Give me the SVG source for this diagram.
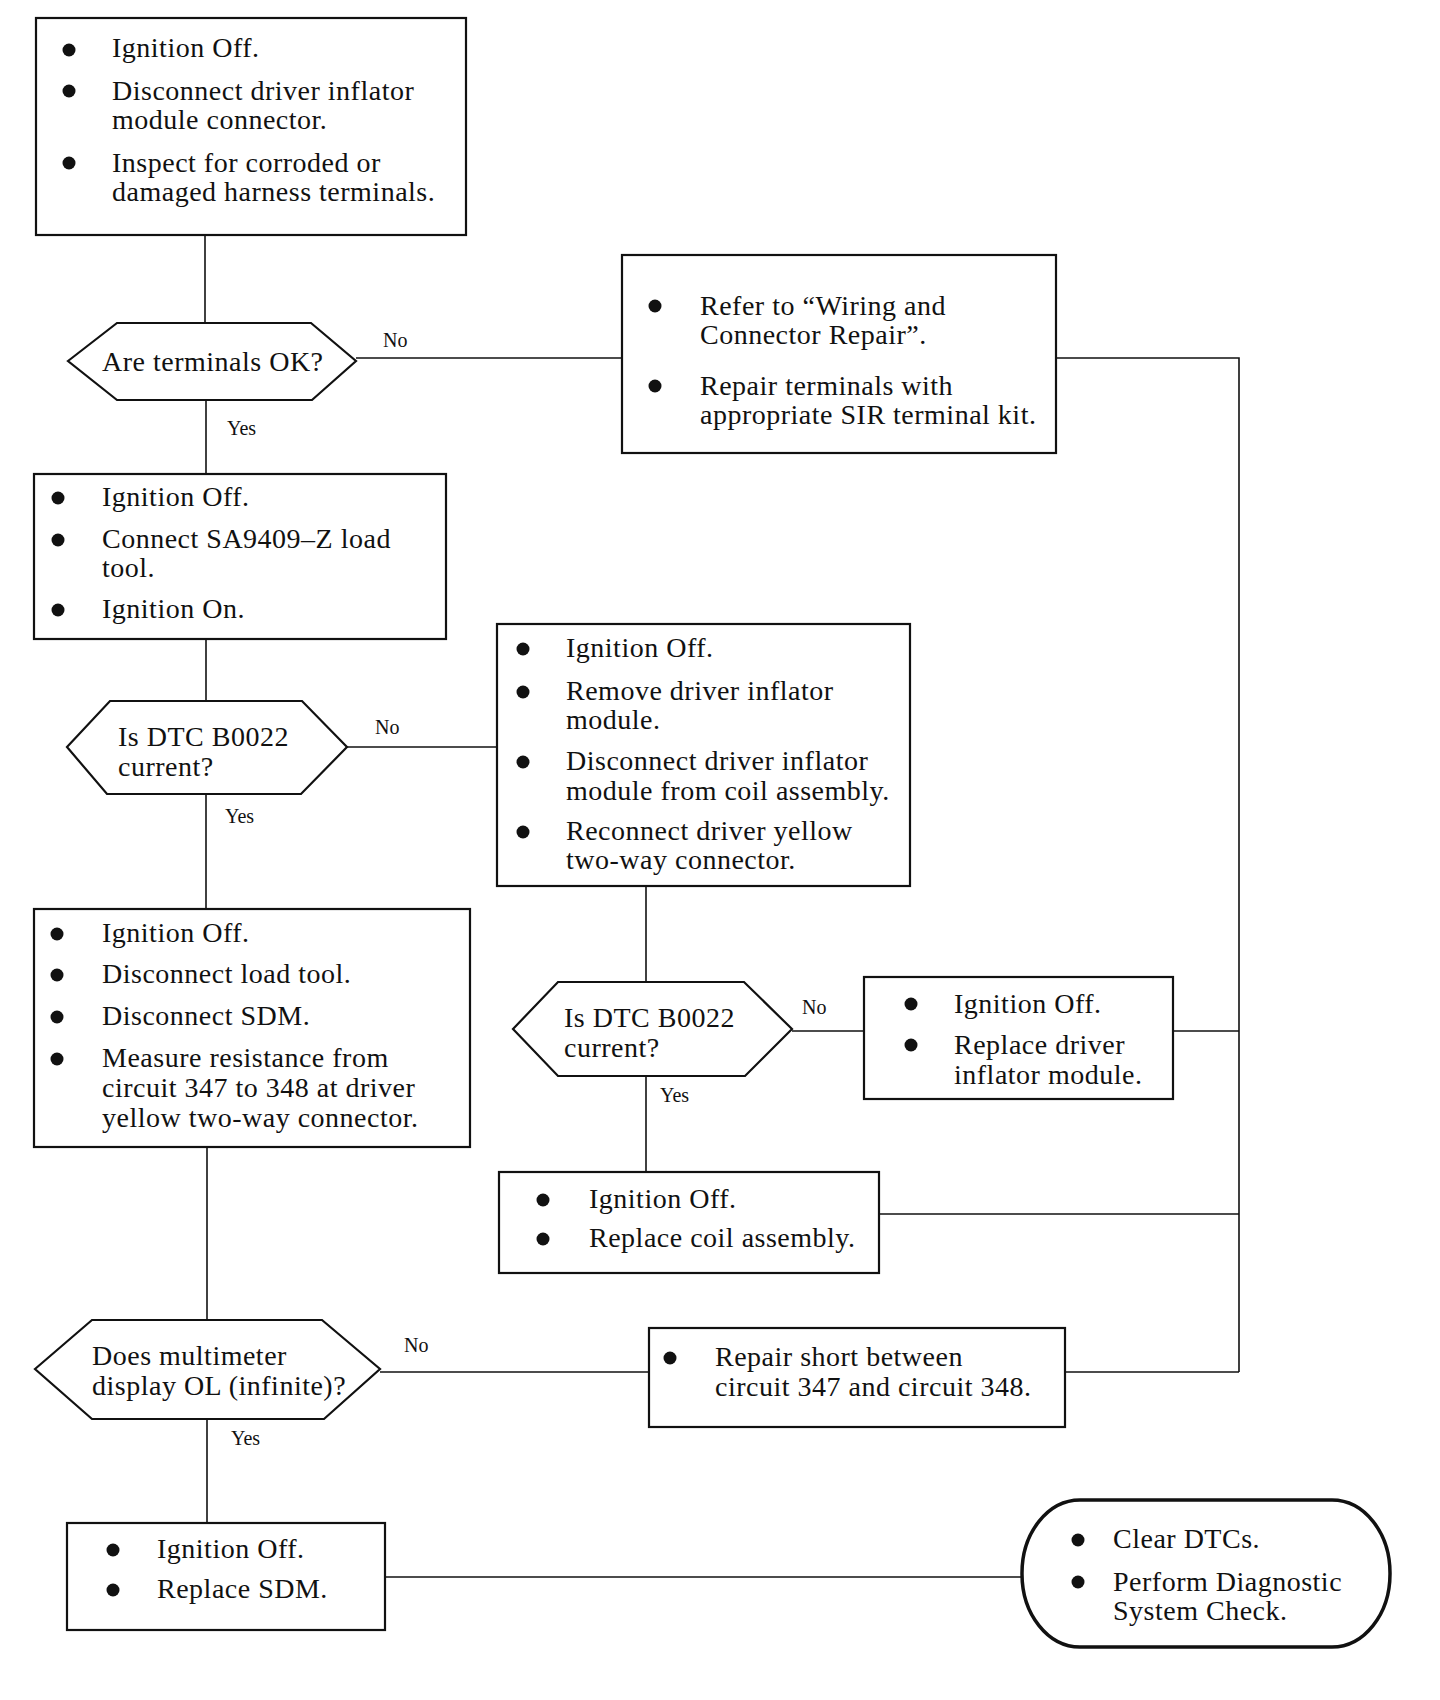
<svg xmlns="http://www.w3.org/2000/svg" width="1440" height="1700" viewBox="0 0 1440 1700">
<style>
.bg{fill:#fff}
.box{fill:#fff;stroke:#111;stroke-width:2.2}
.term{fill:#fff;stroke:#111;stroke-width:3.5}
.conn line,.conn polyline{stroke:#111;stroke-width:1.6;fill:none}
text{font-family:"Liberation Serif","Times New Roman",serif;fill:#111}
.t{font-size:28px;letter-spacing:0.5px}
.lbl{font-size:20px}
.dot{fill:#111}
</style>
<rect class="bg" x="0" y="0" width="1440" height="1700"/>
<g id="connectors" class="conn">
<line x1="205" y1="235" x2="205" y2="323"/>
<line x1="206" y1="400" x2="206" y2="474"/>
<line x1="356" y1="358" x2="622" y2="358"/>
<polyline points="1056,358 1239,358 1239,1372"/>
<line x1="206" y1="639" x2="206" y2="701"/>
<line x1="347" y1="747" x2="497" y2="747"/>
<line x1="206" y1="794" x2="206" y2="909"/>
<line x1="646" y1="886" x2="646" y2="982"/>
<line x1="792" y1="1031" x2="864" y2="1031"/>
<line x1="1173" y1="1031" x2="1239" y2="1031"/>
<line x1="646" y1="1076" x2="646" y2="1172"/>
<line x1="879" y1="1214" x2="1239" y2="1214"/>
<line x1="207" y1="1147" x2="207" y2="1320"/>
<line x1="380" y1="1372" x2="649" y2="1372"/>
<line x1="1065" y1="1372" x2="1239" y2="1372"/>
<line x1="207" y1="1419" x2="207" y2="1523"/>
<line x1="385" y1="1577" x2="1022" y2="1577"/>
<text class="lbl" x="383" y="347">No</text>
<text class="lbl" x="227" y="435">Yes</text>
<text class="lbl" x="375" y="734">No</text>
<text class="lbl" x="225" y="823">Yes</text>
<text class="lbl" x="802" y="1014">No</text>
<text class="lbl" x="660" y="1102">Yes</text>
<text class="lbl" x="404" y="1352">No</text>
<text class="lbl" x="231" y="1445">Yes</text>
</g>
<g id="box1">
<rect class="box" x="36" y="18" width="430" height="217"/>
<circle class="dot" cx="69" cy="50" r="6.5"/>
<circle class="dot" cx="69" cy="91" r="6.5"/>
<circle class="dot" cx="69" cy="163" r="6.5"/>
<text class="t" x="112" y="57">Ignition Off.</text>
<text class="t" x="112" y="100">Disconnect driver inflator</text>
<text class="t" x="112" y="129">module connector.</text>
<text class="t" x="112" y="172">Inspect for corroded or</text>
<text class="t" x="112" y="201">damaged harness terminals.</text>
</g>
<g id="dec1">
<polygon class="box" points="68,361 117,323 311,323 356,361 312,400 117,400"/>
<text class="t" x="102" y="371">Are terminals OK?</text>
</g>
<g id="box2">
<rect class="box" x="622" y="255" width="434" height="198"/>
<circle class="dot" cx="655" cy="306" r="6.5"/>
<circle class="dot" cx="655" cy="386" r="6.5"/>
<text class="t" x="700" y="315">Refer to “Wiring and</text>
<text class="t" x="700" y="344">Connector Repair”.</text>
<text class="t" x="700" y="395">Repair terminals with</text>
<text class="t" x="700" y="424">appropriate SIR terminal kit.</text>
</g>
<g id="box3">
<rect class="box" x="34" y="474" width="412" height="165"/>
<circle class="dot" cx="58" cy="498" r="6.5"/>
<circle class="dot" cx="58" cy="540" r="6.5"/>
<circle class="dot" cx="58" cy="610" r="6.5"/>
<text class="t" x="102" y="506">Ignition Off.</text>
<text class="t" x="102" y="548">Connect SA9409–Z load</text>
<text class="t" x="102" y="577">tool.</text>
<text class="t" x="102" y="618">Ignition On.</text>
</g>
<g id="dec2">
<polygon class="box" points="67,747 110,701 302,701 347,747 301,794 107,794"/>
<text class="t" x="118" y="746">Is DTC B0022</text>
<text class="t" x="118" y="776">current?</text>
</g>
<g id="box4">
<rect class="box" x="497" y="624" width="413" height="262"/>
<circle class="dot" cx="523" cy="649" r="6.5"/>
<circle class="dot" cx="523" cy="692" r="6.5"/>
<circle class="dot" cx="523" cy="762" r="6.5"/>
<circle class="dot" cx="523" cy="832" r="6.5"/>
<text class="t" x="566" y="657">Ignition Off.</text>
<text class="t" x="566" y="700">Remove driver inflator</text>
<text class="t" x="566" y="729">module.</text>
<text class="t" x="566" y="770">Disconnect driver inflator</text>
<text class="t" x="566" y="800">module from coil assembly.</text>
<text class="t" x="566" y="840">Reconnect driver yellow</text>
<text class="t" x="566" y="869">two-way connector.</text>
</g>
<g id="box5">
<rect class="box" x="34" y="909" width="436" height="238"/>
<circle class="dot" cx="57" cy="934" r="6.5"/>
<circle class="dot" cx="57" cy="975" r="6.5"/>
<circle class="dot" cx="57" cy="1017" r="6.5"/>
<circle class="dot" cx="57" cy="1059" r="6.5"/>
<text class="t" x="102" y="942">Ignition Off.</text>
<text class="t" x="102" y="983">Disconnect load tool.</text>
<text class="t" x="102" y="1025">Disconnect SDM.</text>
<text class="t" x="102" y="1067">Measure resistance from</text>
<text class="t" x="102" y="1097">circuit 347 to 348 at driver</text>
<text class="t" x="102" y="1127" letter-spacing="0.1">yellow two-way connector.</text>
</g>
<g id="dec3">
<polygon class="box" points="513,1029 558,982 744,982 792,1029 745,1076 558,1076"/>
<text class="t" x="564" y="1027">Is DTC B0022</text>
<text class="t" x="564" y="1057">current?</text>
</g>
<g id="box6">
<rect class="box" x="864" y="977" width="309" height="122"/>
<circle class="dot" cx="911" cy="1004" r="6.5"/>
<circle class="dot" cx="911" cy="1045" r="6.5"/>
<text class="t" x="954" y="1013">Ignition Off.</text>
<text class="t" x="954" y="1054">Replace driver</text>
<text class="t" x="954" y="1084">inflator module.</text>
</g>
<g id="box7">
<rect class="box" x="499" y="1172" width="380" height="101"/>
<circle class="dot" cx="543" cy="1200" r="6.5"/>
<circle class="dot" cx="543" cy="1239" r="6.5"/>
<text class="t" x="589" y="1208">Ignition Off.</text>
<text class="t" x="589" y="1247">Replace coil assembly.</text>
</g>
<g id="dec4">
<polygon class="box" points="35,1369 92,1320 322,1320 380,1369 324,1419 92,1419"/>
<text class="t" x="92" y="1365">Does multimeter</text>
<text class="t" x="92" y="1395">display OL (infinite)?</text>
</g>
<g id="box8">
<rect class="box" x="649" y="1328" width="416" height="99"/>
<circle class="dot" cx="670" cy="1358" r="6.5"/>
<text class="t" x="715" y="1366">Repair short between</text>
<text class="t" x="715" y="1396">circuit 347 and circuit 348.</text>
</g>
<g id="box9">
<rect class="box" x="67" y="1523" width="318" height="107"/>
<circle class="dot" cx="113" cy="1550" r="6.5"/>
<circle class="dot" cx="113" cy="1590" r="6.5"/>
<text class="t" x="157" y="1558">Ignition Off.</text>
<text class="t" x="157" y="1598">Replace SDM.</text>
</g>
<g id="end">
<rect class="term" x="1022" y="1500" width="368" height="147" rx="58" ry="73"/>
<circle class="dot" cx="1078" cy="1540" r="6.5"/>
<circle class="dot" cx="1078" cy="1582" r="6.5"/>
<text class="t" x="1113" y="1548">Clear DTCs.</text>
<text class="t" x="1113" y="1591">Perform Diagnostic</text>
<text class="t" x="1113" y="1620">System Check.</text>
</g>
</svg>
